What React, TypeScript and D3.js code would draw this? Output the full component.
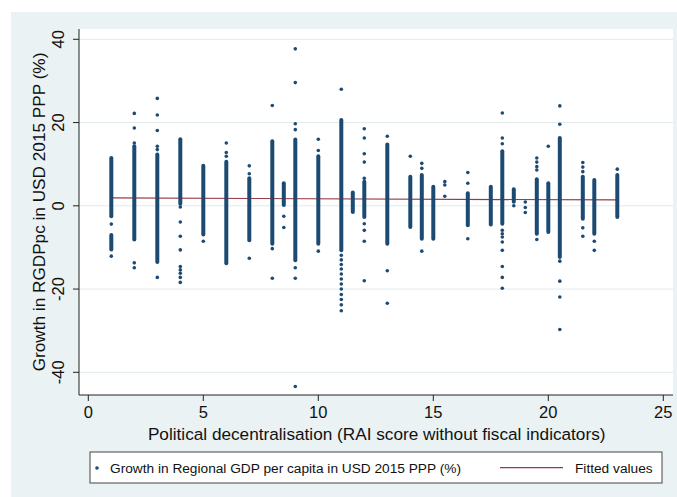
import React from 'react';
import * as d3 from 'd3';

// ---- data ----
const xTicks = [0, 5, 10, 15, 20, 25];
const yTicks = [-40, -20, 0, 20, 40];

// dense runs of overlapping observations (x, low, high)
const runX = [1, 1, 2, 3, 4, 5, 6, 7, 8, 8.5, 9, 10, 11, 11.5, 12, 13, 14, 14.5, 15, 16.5, 17.5, 18, 18.5, 19.5, 20, 20.5, 21.5, 22, 23];
const runLow = [-2.5, -10.5, -8.1, -13.5, 0.5, -6.9, -13.8, -8.3, -9.1, 0.2, -13.1, -9.1, -10.7, -1.5, -2.7, -9.1, -5.1, -7.9, -7.9, -4.7, -4.5, -4.3, 1.0, -6.7, -6.3, -12.3, -3.1, -6.7, -2.7];
const runHigh = [11.5, -7.0, 14.3, 12.3, 16.0, 9.6, 10.6, 6.6, 15.5, 5.4, 15.9, 11.9, 20.6, 3.2, 5.8, 14.7, 7.0, 7.4, 4.6, 3.0, 4.6, 13.1, 4.0, 6.4, 5.4, 16.3, 7.0, 6.2, 7.4];

// isolated observations per column
const colX = [1, 2, 3, 4, 5, 6, 7, 8, 8.5, 9, 10, 11, 12, 13, 14, 14.5, 15.5, 16.5, 18, 18.5, 19, 19.5, 20, 20.5, 21.5, 22, 23];
const colY: number[][] = [
  [-4.4, -12.1],
  [22.2, 18.7, 15.1, -13.7, -14.9],
  [25.8, 21.8, 18.1, 14.3, 13.5, -17.2],
  [-0.3, -3.9, -7.3, -10.6, -14.6, -15.4, -16.2, -17.2, -18.4],
  [-8.5],
  [15.1, 12.8, 11.9],
  [9.6, 7.7, -12.6],
  [24.1, -10.3, -17.4],
  [-2.5, -5.2],
  [37.7, 29.6, 19.7, 18.3, -14.9, -17.4, -43.4],
  [16.0, 13.3, -10.9],
  [28.0, -11.9, -13.0, -14.1, -15.2, -16.4, -17.6, -18.8, -20.0, -21.3, -22.5, -23.8, -25.2],
  [18.5, 16.3, 12.5, 10.5, 6.6, -4.3, -5.9, -8.5, -18.0],
  [16.7, -15.6, -23.4],
  [11.9],
  [10.2, 9.0, -10.9],
  [5.8, 5.0, 2.3],
  [8.0, 5.4, -7.9],
  [22.3, 16.3, 14.9, -5.9, -6.7, -7.5, -8.7, -10.7, -14.6, -17.2, -19.8],
  [0.0],
  [0.9, -0.4, -1.6],
  [11.5, 10.5, 9.4, 8.6, -8.1],
  [14.3],
  [24.0, 19.6, -13.3, -18.1, -21.9, -29.7],
  [10.4, 9.3, 8.2, -5.3, -7.3],
  [-8.5, -10.7],
  [8.8],
];

// fitted regression line
const fitX = [1, 23];
const fitY = [1.9, 1.4];

const xTitle = 'Political decentralisation (RAI score without fiscal indicators)';
const yTitle = 'Growth in RGDPpc in USD 2015 PPP (%)';
const legendScatter = 'Growth in Regional GDP per capita in USD 2015 PPP (%)';
const legendFit = 'Fitted values';

const W = 677;
const H = 497;
const FONT = '"Liberation Sans", Arial, Helvetica, sans-serif';
const NAVY = '#1c4a72';
const MAROON = '#983a40';
const BG = '#eaf2f3';

export default function App() {
  const plotL = 79, plotR = 673, plotT = 29, plotB = 395;
  const x = d3.scaleLinear().domain([0, 25]).range([88.3, 663.3]);
  const y = d3.scaleLinear().domain([-40, 40]).range([372.3, 39.3]);
  const line = d3.line<number>().x((_, i) => x(fitX[i])).y((d) => y(d));

  const pts: { cx: number; cy: number }[] = [];
  colX.forEach((cx, i) => colY[i].forEach((v) => pts.push({ cx: x(cx), cy: y(v) })));

  return (
    <svg width={W} height={H} style={{ position: 'absolute', left: 0, top: 0 }} fontFamily={FONT}>
      <rect x={0} y={0} width={W} height={H} fill="#ffffff" />
      <rect x={11} y={12} width={W - 11} height={H - 12} fill={BG} />
      <rect x={plotL} y={plotT} width={plotR - plotL} height={plotB - plotT} fill="#ffffff" />
      {yTicks.map((t) => (
        <line key={'g' + t} x1={plotL} x2={plotR} y1={y(t)} y2={y(t)} stroke="#e1eaec" strokeWidth={1} />
      ))}
      <path d={line(fitY) || ''} fill="none" stroke={MAROON} strokeWidth={1.2} />
      {/* dense runs */}
      {runX.map((rx, i) => (
        <line
          key={'r' + i}
          x1={x(rx)}
          x2={x(rx)}
          y1={y(runLow[i])}
          y2={y(runHigh[i])}
          stroke={NAVY}
          strokeWidth={4}
          strokeLinecap="round"
        />
      ))}
      {pts.map((p, i) => (
        <circle key={'p' + i} cx={p.cx} cy={p.cy} r={1.8} fill={NAVY} />
      ))}
      {/* axes */}
      <line x1={plotL} x2={plotL} y1={plotT} y2={plotB} stroke="#222" strokeWidth={1} />
      <line x1={plotL} x2={plotR} y1={plotB} y2={plotB} stroke="#222" strokeWidth={1} />
      {yTicks.map((t) => (
        <g key={'yt' + t}>
          <line x1={plotL - 6} x2={plotL} y1={y(t)} y2={y(t)} stroke="#222" strokeWidth={1} />
          <text
            transform={`translate(63.5,${y(t)}) rotate(-90)`}
            textAnchor="middle"
            fontSize={16.5}
            fill="#111"
          >
            {t}
          </text>
        </g>
      ))}
      {xTicks.map((t) => (
        <g key={'xt' + t}>
          <line x1={x(t)} x2={x(t)} y1={plotB} y2={plotB + 6} stroke="#222" strokeWidth={1} />
          <text x={x(t)} y={418.2} textAnchor="middle" fontSize={16.5} fill="#111">
            {t}
          </text>
        </g>
      ))}
      <text x={376.7} y={439.5} textAnchor="middle" fontSize={17.2} fill="#111">
        {xTitle}
      </text>
      <text transform={`translate(45,212) rotate(-90)`} textAnchor="middle" fontSize={17.2} fill="#111">
        {yTitle}
      </text>
      {/* legend */}
      <rect x={90} y={452} width={572} height={31} fill="#ffffff" stroke="#444" strokeWidth={1} />
      <circle cx={97} cy={468} r={1.8} fill={NAVY} />
      <text x={110} y={472.5} fontSize={13.7} fill="#111">
        {legendScatter}
      </text>
      <line x1={500} x2={563} y1={467.7} y2={467.7} stroke={MAROON} strokeWidth={1.2} />
      <text x={575} y={472.5} fontSize={13.7} fill="#111">
        {legendFit}
      </text>
    </svg>
  );
}
